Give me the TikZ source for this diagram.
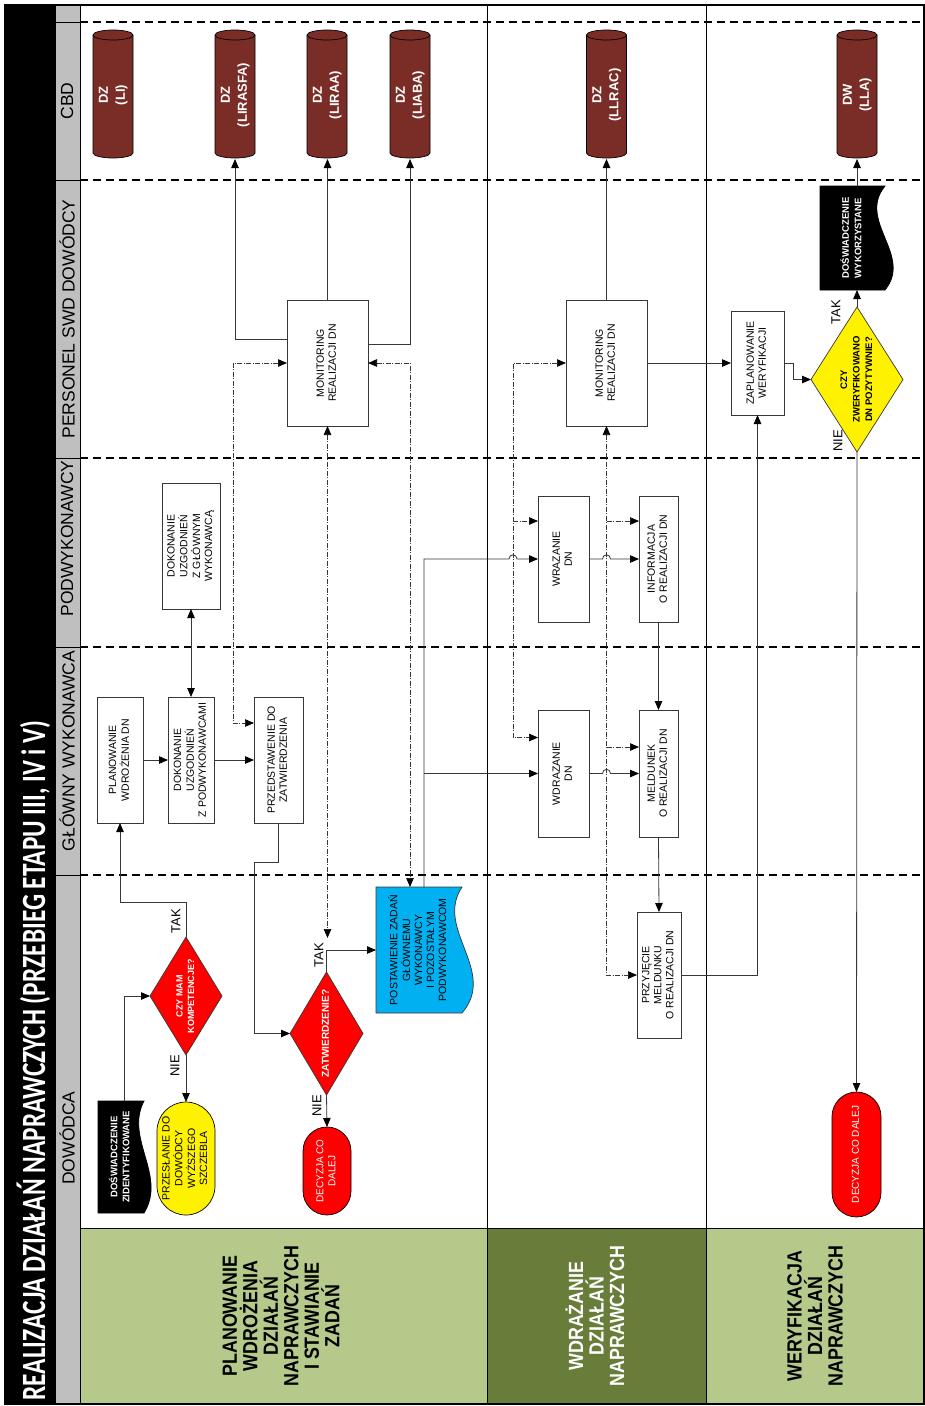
\documentclass[tikz,border=0pt]{standalone}
\usepackage{fontspec}
\setmainfont{Liberation Sans}
\newfontfamily\titlefont{Carlito}[FakeStretch=0.745]
\newfontfamily\phasefont{Liberation Sans}[FakeStretch=0.87]
\usepackage{graphicx}
\usetikzlibrary{arrows.meta,calc}
\pgfdeclarelayer{lanes}
\pgfdeclarelayer{shapes}
\pgfsetlayers{lanes,shapes,main}
\definecolor{cylbrown}{RGB}{122,45,38}
\definecolor{hdrgray}{RGB}{191,191,191}
\definecolor{lgreen}{RGB}{181,201,138}
\definecolor{dgreen}{RGB}{105,125,58}
\definecolor{docblue}{RGB}{0,176,240}
\definecolor{lncol}{RGB}{55,55,55}
\newcommand\vtext[1]{\rotatebox{90}{\begin{tabular}{@{}c@{}}#1\end{tabular}}}
\newcommand\drawcyl[1]{%
 \filldraw[fill=cylbrown,draw=black,line width=0.7pt] (#1-20,35) -- (#1-20,153) .. controls (#1-20,155.76) and (#1-11.04,158) .. (#1,158) .. controls (#1+11.04,158) and (#1+20,155.76) .. (#1+20,153) -- (#1+20,35) .. controls (#1+20,32.24) and (#1+11.04,30) .. (#1,30) .. controls (#1-11.04,30) and (#1-20,32.24) .. (#1-20,35) -- cycle;
 \draw[black,line width=0.7pt] (#1-20,35) .. controls (#1-20,37.76) and (#1-11.04,40) .. (#1,40) .. controls (#1+11.04,40) and (#1+20,37.76) .. (#1+20,35);
}
\tikzset{ah/.tip={Triangle[length=9pt,width=7.5pt,color=black]}}
\begin{document}
\begin{tikzpicture}[x=1pt,y=-1pt,
 every node/.style={inner sep=0pt,outer sep=0pt},
 sfont/.style={font=\fontsize{10.5}{12}\selectfont},
 box/.style={draw=lncol,fill=white,line width=0.8pt,sfont},
 term/.style={draw=black,line width=0.7pt},
 conn/.style={draw=lncol,line width=0.8pt},
 arr/.style={conn,-ah},
 darr/.style={conn,ah-ah},
 dd/.style={draw=lncol,line width=0.7pt,dash pattern=on 5pt off 1.5pt on 1pt off 1.5pt},
 ddarr/.style={dd,-ah},
 dddarr/.style={dd,ah-ah},
 lanedash/.style={line width=2.6pt,dash pattern=on 8pt off 5pt},
 lanelbl/.style={rotate=90,font=\fontsize{17.5}{20}\selectfont},
 yn/.style={rotate=90,font=\fontsize{13}{15}\selectfont},
 phase/.style={rotate=90,align=center,font=\phasefont\bfseries\fontsize{20.5}{20.5}\selectfont},
 cyl/.style={minimum width=40pt,minimum height=128pt,text=white,font=\bfseries\fontsize{13}{17}\selectfont},
]
\useasboundingbox (0,0) rectangle (925,1406);

% ---------- lanes ----------
\begin{pgfonlayer}{lanes}
 \fill[white] (0,0) rectangle (925,1406);
 \fill[black] (5,5) rectangle (55,1404);
 \fill[hdrgray] (55,5) rectangle (80,1404);
 \fill[lgreen] (80,1228) rectangle (487,1404);
 \fill[dgreen] (487,1228) rectangle (706,1404);
 \fill[lgreen] (706,1228) rectangle (924,1404);
 \draw[line width=0.9pt] (80,1228) -- (924,1228);
 \foreach \yy in {22,180,458,647,875} {
   \draw[lanedash] (80,\yy) -- (924,\yy);
   \draw[line width=0.8pt] (55,\yy) -- (80,\yy);
 }
 \draw[line width=1pt] (55,5) -- (55,1404) (80,5) -- (80,1404) (487,5) -- (487,1404) (706,5) -- (706,1404);
 \draw[line width=1.3pt] (5,5) rectangle (924,1404);
\end{pgfonlayer}

% ---------- title and lane labels ----------
\node[rotate=90,anchor=base,text=white,font=\titlefont\bfseries\fontsize{34}{40}\selectfont] (title) at (45,1060.5) {REALIZACJA DZIAŁAŃ NAPRAWCZYCH (PRZEBIEG ETAPU III, IV i V)};
\node[lanelbl] (lCBD) at (67,101) {CBD};
\node[lanelbl] (lPers) at (67,319) {PERSONEL SWD DOWÓDCY};
\node[lanelbl] (lPodw) at (67,538.5) {PODWYKONAWCY};
\node[lanelbl] (lGlow) at (67,751) {GŁÓWNY WYKONAWCA};
\node[lanelbl] (lDow) at (67,1138) {DOWÓDCA};

\node[phase] (ph1) at (281,1316) {PLANOWANIE\\WDROŻENIA\\DZIAŁAŃ\\NAPRAWCZYCH\\I STAWIANIE\\ZADAŃ};
\node[phase,text=white] (ph2) at (595,1316) {WDRAŻANIE\\DZIAŁAŃ\\NAPRAWCZYCH};
\node[phase] (ph3) at (815,1316) {WERYFIKACJA\\DZIAŁAŃ\\NAPRAWCZYCH};

% ---------- cylinders ----------
\node[cyl] (cLI) at (113,95) {\vtext{DZ\\(LI)}};
\node[cyl] (cLIRASFA) at (235,95) {\vtext{DZ\\(LIRASFA)}};
\node[cyl] (cLIRAA) at (327,95) {\vtext{DZ\\(LIRAA)}};
\node[cyl] (cLIABA) at (410,95) {\vtext{DZ\\(LIABA)}};
\node[cyl] (cLLRAC) at (606.5,95) {\vtext{DZ\\(LLRAC)}};
\node[cyl] (cLLA) at (857,95) {\vtext{DW\\(LLA)}};

% ---------- boxes ----------
\node[box,minimum width=46pt,minimum height=126pt] (plan) at (120,760) {\vtext{PLANOWANIE\\WDROŻENIA DN}};
\node[box,minimum width=46pt,minimum height=126pt] (uzg1) at (191,760) {\vtext{DOKONANIE\\UZGODNIEŃ\\Z PODWYKONAWCAMI}};
\node[box,minimum width=49pt,minimum height=126pt] (przed) at (278.5,760) {\vtext{PRZEDSTAWENIE DO\\ZATWIERDZENIA}};
\node[box,minimum width=58pt,minimum height=126pt] (uzg2) at (191,546) {\vtext{DOKONANIE\\UZGODNIEŃ\\Z GŁÓWNYM\\WYKONAWCĄ}};
\node[box,minimum width=81pt,minimum height=126pt] (mon1) at (327.5,363) {\vtext{MONITORING\\REALIZACJI DN}};
\node[box,minimum width=81pt,minimum height=126pt] (mon2) at (606.5,363) {\vtext{MONITORING\\REALIZACJI DN}};
\node[box,minimum width=51pt,minimum height=126pt] (wraz) at (563.5,559) {\vtext{WRAZANIE\\DN}};
\node[box,minimum width=51pt,minimum height=127pt] (wdraz) at (563.5,773.5) {\vtext{WDRAZANIE\\DN}};
\node[box,minimum width=39pt,minimum height=126pt] (info) at (658.5,559) {\vtext{INFORMACJA\\O REALIZACJI DN}};
\node[box,minimum width=39pt,minimum height=127pt] (meld) at (658.5,773.5) {\vtext{MELDUNEK\\O REALIZACJI DN}};
\node[box,minimum width=44pt,minimum height=126pt] (przyj) at (659,975) {\vtext{PRZYJĘCIE\\MELDUNKU\\O REALIZACJI DN}};
\node[box,minimum width=53pt,minimum height=104pt] (zapl) at (757.5,363) {\vtext{ZAPLANOWANIE\\WERYFIKACJI}};

% ---------- decisions ----------
\node[minimum width=72pt,minimum height=118pt,text=white,font=\bfseries\fontsize{9}{11.5}\selectfont] (dKomp) at (186,996) {\vtext{CZY MAM\\KOMPETENCJE?}};
\node[minimum width=73pt,minimum height=123pt,text=white,font=\bfseries\fontsize{10}{12}\selectfont] (dZatw) at (326.5,1033.5) {\vtext{ZATWIERDZENIE?}};
\node[minimum width=92pt,minimum height=145pt,font=\bfseries\fontsize{9.5}{12.5}\selectfont] (dZwer) at (857,379.5) {\vtext{CZY\\ZWERYFIKOWANO\\DN POZYTYWNIE?}};

% ---------- terminators ----------
\node[term,fill=yellow,rounded corners=29pt,minimum width=58pt,minimum height=113pt,sfont] (tPrzes) at (186,1158.5) {\vtext{PRZESŁANIE DO\\DOWÓDCY\\WYŻSZEGO\\SZCZEBLA}};
\node[term,fill=red,rounded corners=24pt,minimum width=48pt,minimum height=88pt,text=white,font=\fontsize{10}{12}\selectfont] (tDec1) at (327,1171) {\vtext{DECYZJA CO\\DALEJ}};
\node[term,fill=red,rounded corners=24.5pt,minimum width=49pt,minimum height=125pt,text=white,font=\fontsize{10}{12}\selectfont] (tDec2) at (856.5,1154.5) {\vtext{DECYZJA CO DALEJ}};

% ---------- documents ----------
\node[minimum width=46pt,minimum height=112pt,text=white,font=\bfseries\fontsize{9.5}{12}\selectfont] (docZid) at (121,1157) {\vtext{DOŚWIADCZENIE\\ZIDENTYFIKOWANE}};
\node[minimum width=86pt,minimum height=126pt,sfont] (docPost) at (419,950) {\vtext{POSTAWIENIE ZADAŃ\\GŁÓWNEMU\\WYKONAWCY\\I POZOSTAŁYM\\PODWYKONAWCOM}};
\node[minimum width=65pt,minimum height=104pt,text=white,font=\bfseries\fontsize{9.5}{12.5}\selectfont] (docWyk) at (852.5,238) {\vtext{DOŚWIADCZENIE\\WYKORZYSTANE}};

% ---------- shapes under text ----------
\begin{pgfonlayer}{shapes}
 \drawcyl{113}
 \drawcyl{235}
 \drawcyl{327}
 \drawcyl{410}
 \drawcyl{606.5}
 \drawcyl{857}
 \filldraw[fill=red,draw=lncol,line width=0.7pt] (dKomp.north) -- (dKomp.east) -- (dKomp.south) -- (dKomp.west) -- cycle;
 \filldraw[fill=red,draw=lncol,line width=0.7pt] (dZatw.north) -- (dZatw.east) -- (dZatw.south) -- (dZatw.west) -- cycle;
 \filldraw[fill=yellow,draw=lncol,line width=0.7pt] (dZwer.north) -- (dZwer.east) -- (dZwer.south) -- (dZwer.west) -- cycle;
 \filldraw[fill=black,draw=black,line width=0.7pt] (docZid.north west) -- (docZid.north east) .. controls ($(docZid.north east)+(-19.6,37.3)$) and ($(docZid.north east)+(23.2,74.7)$) .. (docZid.south east) -- (docZid.south west) -- cycle;
 \filldraw[fill=docblue,draw=lncol,line width=0.7pt] (docPost.north west) -- (docPost.north east) .. controls ($(docPost.north east)+(-28,42)$) and ($(docPost.north east)+(36,84)$) .. (docPost.south east) -- (docPost.south west) -- cycle;
 \filldraw[fill=black,draw=black,line width=0.7pt] (docWyk.north west) -- (docWyk.north east) .. controls ($(docWyk.north east)+(-28.4,34.7)$) and ($(docWyk.north east)+(28.4,69.3)$) .. (docWyk.south east) -- (docWyk.south west) -- cycle;
\end{pgfonlayer}

% ---------- yes/no labels ----------
\node[yn] (tak1) at (176,921) {TAK};
\node[yn] (nie1) at (175,1066) {NIE};
\node[yn] (tak2) at (319,955) {TAK};
\node[yn] (nie2) at (317,1106) {NIE};
\node[yn] (tak3) at (836,312) {TAK};
\node[yn] (nie3) at (838,441) {NIE};

% ---------- solid connectors ----------
\draw[arr] ([xshift=3pt]docZid.north) |- (dKomp.west);
\draw[arr] (dKomp.north) -- ++(0,-35) -| (plan.south);
\draw[arr] (dKomp.south) -- (tPrzes.north);
\draw[arr] (plan.east) -- (uzg1.west);
\draw[arr] (uzg1.east) -- (przed.west);
\draw[darr] (uzg1.north) -- (uzg2.south);
\draw[arr] (przed.south) -- ++(0,39) -- ++(-24,0) |- (dZatw.west);
\draw[arr] (dZatw.south) -- (tDec1.north);
\draw[arr] (dZatw.north) |- (docPost.west);
\coordinate (pst) at ([xshift=5pt]docPost.north);
\draw[arr] (pst) |- (509,559) .. controls (509,553.5) and (517,553.5) .. (517,559) -- (wraz.west);
\draw[arr] (pst |- wdraz.west) -- (wdraz.west);
\draw[arr] (wraz.east) -- (602.5,559) .. controls (602.5,553.5) and (610.5,553.5) .. (610.5,559) -- (info.west);
\draw[arr] (wdraz.east) -- (602.5,773.5) .. controls (602.5,768) and (610.5,768) .. (610.5,773.5) -- (meld.west);
\draw[arr] (info.south) -- (meld.north);
\draw[arr] (meld.south) -- (przyj.north);
\draw[arr] (przyj.east) -| (zapl.south);
\draw[arr] (mon2.east) -- (zapl.west);
\draw[arr] (zapl.east) -- ++(9,0) |- (dZwer.west);
\draw[arr] (dZwer.north) -- (dZwer.north |- docWyk.south);
\draw[arr] (dZwer.north |- docWyk.north) -- (dZwer.north |- cLLA.south);
\draw[arr] (dZwer.south) -- (tDec2.north);
\draw[arr] ([yshift=24pt]mon1.west) -| (cLIRASFA.south);
\draw[arr] (mon1.north) -- (mon1.north |- cLIRAA.south);
\draw[arr] ([yshift=19pt]mon1.east) -| (cLIABA.south);
\draw[arr] (mon2.north) -- (mon2.north |- cLLRAC.south);

% ---------- dash-dot connectors ----------
\coordinate (ddA) at (233,723);
\draw[dddarr] (mon1.west) -| (ddA) -- (ddA -| przed.west);
\coordinate (ddB) at (327.5,938);
\draw[dddarr] (mon1.south) -- (ddB);
\coordinate (pstd) at ([xshift=-9pt]docPost.north);
\draw[dddarr] (mon1.east) -| (pstd);
\coordinate (ddC) at (513,737.5);
\draw[dddarr] (mon2.west) -| (ddC) -- (ddC -| wdraz.west);
\coordinate (ddD) at (513,521);
\draw[ddarr] (ddD) -- (ddD -| wraz.west);
\draw[dddarr] (mon2.south) |- (przyj.west);
\coordinate (ddE) at (606.5,521);
\draw[ddarr] (ddE) -- (ddE -| info.west);
\coordinate (ddF) at (606.5,747);
\draw[ddarr] (ddF) -- (ddF -| meld.west);
\end{tikzpicture}
\end{document}
